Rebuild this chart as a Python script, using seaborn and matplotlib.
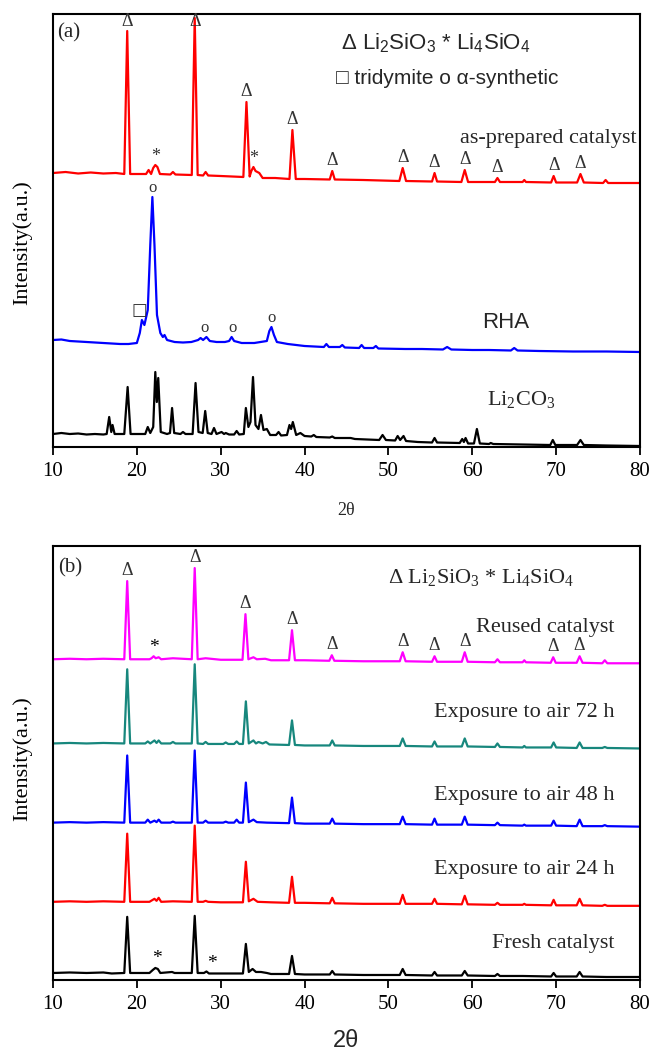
import numpy as np
import pandas as pd
import seaborn as sns
import matplotlib.pyplot as plt

# ---- XRD traces: (2theta, intensity a.u.) vertices ----
two_theta_ticks = [10, 20, 30, 40, 50, 60, 70, 80]

# panel (a)
as_prepared = [(10, 12), (11.5, 13), (13, 11.5), (14.5, 12.5), (16, 11.5), (17.5, 12), (18.5, 11),
               (18.85, 154), (19.2, 11), (20.5, 11), (21.1, 11), (21.4, 15), (21.7, 11), (21.95, 17),
               (22.2, 20), (22.45, 18), (22.75, 11), (24.0, 10.5), (24.3, 13), (24.6, 10.5), (26.55, 10),
               (26.9, 167), (27.25, 10), (27.9, 9.5), (28.2, 13), (28.5, 9.5), (30, 9), (32.7, 8),
               (33.07, 83), (33.45, 8.5), (33.65, 14), (33.9, 18), (34.15, 14), (34.6, 12), (35.0, 7),
               (36.5, 7), (38.2, 6), (38.55, 55), (38.95, 6), (40, 6), (43.0, 5.5), (43.3, 14),
               (43.6, 5.5), (47, 5), (51.3, 4), (51.7, 17), (52.1, 4), (55.2, 3.5), (55.5, 12),
               (55.8, 3.5), (58.7, 3), (59.1, 15), (59.5, 3), (62.7, 3), (63.0, 7), (63.3, 3), (66.0, 3),
               (66.2, 5), (66.4, 3), (69.4, 2.5), (69.7, 9), (70.0, 2.5), (72.5, 2.5), (72.9, 11),
               (73.3, 2.5), (75.6, 2), (75.9, 5), (76.2, 2), (80, 2)]

rha = [(10, 15), (11, 15.5), (12, 14), (13, 13.5), (14, 13), (15, 12.5), (16, 12), (17, 11.5), (18, 11),
       (19, 11), (20, 12), (20.35, 22), (20.6, 35), (20.9, 30), (21.3, 45), (21.6, 110), (21.85, 158),
       (22.1, 110), (22.4, 40), (22.8, 22), (23.1, 18), (23.3, 20), (23.6, 15), (24.5, 13), (25.5, 12.5),
       (26.5, 13), (27.3, 15), (27.6, 17), (27.9, 15), (28.3, 18), (28.7, 14), (29.5, 13), (30.5, 13),
       (31.0, 14), (31.3, 18), (31.6, 14), (32.5, 12), (34.0, 12), (35.5, 14), (35.8, 24), (36.05, 28),
       (36.35, 20), (36.7, 13), (38, 11), (40, 9), (42.3, 8), (42.6, 11), (42.9, 8), (44.2, 8),
       (44.5, 10), (44.8, 7.5), (46.5, 7), (46.8, 10), (47.1, 7), (48.2, 7), (48.5, 9), (48.8, 6.5),
       (52, 6), (54, 6), (56.5, 5.5), (57, 8), (57.5, 5.5), (60, 5), (62, 5), (64.6, 4.5), (65, 7),
       (65.4, 4.5), (68, 4), (72, 3.5), (76, 3.5), (80, 3)]

li2co3 = [(10, 13), (11, 14), (12, 13), (13, 13.5), (14, 12.5), (15, 13), (16, 12.5), (16.4, 13),
          (16.7, 30), (16.95, 15), (17.1, 22), (17.35, 13), (18.5, 13), (18.9, 60), (19.25, 13),
          (20.5, 13), (21.0, 13), (21.3, 20), (21.6, 14), (21.95, 20), (22.2, 75), (22.38, 45),
          (22.55, 69), (22.85, 15), (23.6, 13), (23.95, 14), (24.2, 39), (24.45, 14), (25.2, 13),
          (25.5, 15), (25.8, 13), (26.65, 13), (27.0, 64), (27.35, 15), (27.85, 14), (28.15, 36),
          (28.45, 14), (28.9, 13), (29.2, 19), (29.5, 13), (30.1, 15), (30.4, 13), (30.6, 14),
          (31.0, 12.5), (31.6, 12.5), (31.9, 16), (32.2, 12.5), (32.75, 13), (33.0, 39), (33.3, 20),
          (33.55, 25), (33.85, 70), (34.15, 22), (34.5, 18), (34.8, 32), (35.1, 17), (35.5, 18),
          (35.9, 12), (36.6, 12), (36.9, 15), (37.2, 11.5), (37.9, 12), (38.2, 22), (38.4, 18),
          (38.6, 25), (39.0, 12), (39.5, 14), (40.0, 11), (40.8, 10.5), (41.1, 12), (41.4, 10),
          (43.0, 9.5), (43.3, 10.5), (43.6, 9), (45.5, 9), (46, 8), (48.9, 7), (49.3, 12), (49.7, 7),
          (50.8, 6.5), (51.1, 11), (51.4, 7), (51.8, 11), (52.1, 6), (53.5, 5), (55.2, 4.5), (55.5, 9),
          (55.8, 4.5), (58.5, 4), (58.8, 8), (59.0, 5), (59.2, 9), (59.5, 3.5), (60.2, 3.5),
          (60.55, 18), (60.9, 3.5), (62.0, 3), (62.2, 4), (62.5, 3), (66, 2.5), (69.3, 2), (69.6, 7),
          (69.9, 2), (72.5, 2), (72.9, 7), (73.3, 2), (76, 1.5), (80, 1)]

# panel (b)
reused = [(10, 8), (12, 8.5), (14, 8), (16, 8.5), (18.5, 8), (18.85, 86), (19.2, 8), (21.5, 8),
          (21.75, 9), (22.0, 11), (22.25, 9), (22.6, 10), (22.9, 8), (24.3, 9), (26.55, 8), (26.9, 99),
          (27.25, 8), (28.2, 9), (30, 7.5), (32.6, 7.5), (32.95, 53), (33.3, 8), (33.9, 10), (34.3, 8),
          (35.3, 8.5), (36, 7), (38.15, 7), (38.5, 37), (38.85, 7), (40, 7), (42.95, 6.5), (43.25, 12),
          (43.55, 6.5), (47, 6), (51.35, 6), (51.7, 15), (52.05, 6), (55.2, 5.5), (55.5, 11),
          (55.8, 5.5), (58.75, 5.5), (59.1, 15), (59.45, 5.5), (62.7, 5), (63.0, 8), (63.3, 5),
          (66.0, 5), (66.2, 7), (66.4, 5), (69.35, 4.5), (69.65, 10), (69.95, 4.5), (72.45, 4.5),
          (72.8, 11), (73.15, 4.5), (75.5, 4), (75.8, 7), (76.1, 4), (80, 4)]

air_72h = [(10, 8), (12, 8.5), (14, 8), (16, 8.5), (18.5, 8), (18.85, 82), (19.2, 8), (21.0, 8),
           (21.3, 10), (21.6, 8), (22.1, 11), (22.35, 8.5), (22.6, 11), (22.9, 8), (24.0, 8), (24.3, 9.5),
           (24.6, 8), (26.55, 8), (26.9, 87), (27.25, 8), (27.9, 7.5), (28.2, 9.5), (28.5, 7.5),
           (30.3, 7.5), (30.6, 9), (30.9, 7.5), (31.6, 7.5), (31.9, 10), (32.2, 7.5), (32.65, 7.5),
           (33.0, 50), (33.35, 8), (33.9, 11), (34.2, 8), (34.5, 9.5), (35.0, 8), (35.4, 9.5), (35.8, 7),
           (38.15, 6.5), (38.5, 31), (38.85, 6.5), (40, 6), (43.0, 6), (43.3, 11), (43.6, 6), (47, 5.5),
           (51.35, 5.5), (51.7, 13), (52.05, 5.5), (55.2, 5), (55.5, 10), (55.8, 5), (58.75, 5),
           (59.1, 13), (59.45, 5), (62.7, 4.5), (63.0, 8), (63.3, 4.5), (66.0, 4), (66.2, 5.5), (66.4, 4),
           (69.4, 4), (69.7, 9), (70.0, 4), (72.45, 3.5), (72.8, 9), (73.15, 3.5), (75.5, 3.5),
           (75.8, 4.5), (76.1, 3.5), (80, 3)]

air_48h = [(10, 7), (12, 7.5), (14, 7), (16, 7.5), (18.5, 7), (18.85, 74), (19.2, 7), (21.0, 7),
           (21.3, 10), (21.6, 7), (22.1, 9), (22.35, 7.5), (22.6, 10), (22.9, 7), (24.0, 7), (24.3, 8),
           (24.6, 7), (26.55, 7), (26.9, 79), (27.25, 7), (27.9, 7), (28.2, 9), (28.5, 7), (30.3, 7),
           (30.6, 8), (30.9, 7), (31.6, 7), (31.9, 10), (32.2, 7), (32.65, 7), (33.0, 47), (33.35, 7.5),
           (33.9, 10), (34.3, 7.5), (35.5, 7), (38.15, 6.5), (38.5, 32), (38.85, 6.5), (40, 6),
           (43.0, 6), (43.3, 11), (43.6, 6), (47, 5.5), (51.35, 5.5), (51.7, 13), (52.05, 5.5),
           (55.2, 5), (55.5, 11), (55.8, 5), (58.75, 5), (59.1, 13), (59.45, 5), (62.7, 4.5), (63.0, 7),
           (63.3, 4.5), (66.0, 4), (66.2, 5), (66.4, 4), (69.4, 4), (69.7, 9), (70.0, 4), (72.45, 3.5),
           (72.8, 10), (73.15, 3.5), (75.5, 3.5), (75.8, 4.5), (76.1, 3.5), (80, 3)]

air_24h = [(10, 7), (12, 7.5), (14, 7), (16, 7.5), (18.5, 7), (18.85, 75), (19.2, 7), (21.5, 7),
           (21.8, 8.5), (22.1, 10), (22.35, 8), (22.6, 11), (22.9, 7), (24.3, 7.5), (26.55, 7),
           (26.9, 83), (27.25, 7), (27.9, 7), (28.2, 8), (28.5, 7), (30, 6.5), (32.65, 6.5), (33.0, 47),
           (33.35, 7.5), (33.9, 10), (34.4, 7), (36, 6.5), (38.15, 6), (38.5, 32), (38.85, 6), (40, 6),
           (43.0, 5.5), (43.3, 11), (43.6, 5.5), (47, 5), (51.35, 5), (51.7, 14), (52.05, 5), (55.2, 5),
           (55.5, 10), (55.8, 5), (58.75, 4.5), (59.1, 13), (59.45, 4.5), (62.7, 4), (63.0, 6),
           (63.3, 4), (66.0, 4), (66.2, 5), (66.4, 4), (69.4, 3.5), (69.7, 9), (70.0, 3.5), (72.45, 3.5),
           (72.8, 10), (73.15, 3.5), (75.5, 3), (75.8, 4), (76.1, 3), (80, 3)]

fresh = [(10, 7), (12, 7.5), (14, 7), (16, 7.5), (17, 6.5), (18.5, 7), (18.85, 63), (19.2, 7),
         (21.5, 7), (21.9, 10), (22.2, 12), (22.5, 11), (22.8, 7), (24.2, 8), (24.5, 7), (26.55, 7),
         (26.9, 64), (27.25, 7), (28.0, 7), (28.3, 8.5), (28.6, 6.5), (30, 6.5), (32.65, 6.5), (33.0, 36),
         (33.35, 8), (33.8, 11), (34.2, 8), (34.8, 8), (35.5, 7), (36, 6), (38.15, 6), (38.5, 24),
         (38.85, 6), (40, 5.5), (43.0, 5.5), (43.3, 9), (43.6, 5.5), (47, 5), (51.35, 5), (51.7, 11),
         (52.05, 5), (55.2, 4.5), (55.5, 8), (55.8, 4.5), (58.75, 4.5), (59.1, 9), (59.45, 4.5),
         (62.7, 4), (63.0, 6), (63.3, 4), (66, 4), (69.4, 3.5), (69.7, 7), (70.0, 3.5), (72.45, 3.5),
         (72.8, 8), (73.15, 3.5), (76, 3), (80, 3)]

# phase marks (peak positions, 2theta)
li2sio3_a = [18.85, 26.9, 33.07, 38.55, 43.3, 51.7, 55.5, 59.1, 63.0, 69.7, 72.9]
li4sio4_a = [22.2, 33.9]
alpha_rha = [21.85, 28.1, 31.4, 36.05]
tridymite_rha = [20.3]
li2sio3_b = [18.85, 26.9, 32.95, 38.5, 43.25, 51.7, 55.5, 59.1, 69.65, 72.8]
li4sio4_reused = [22.0]
li4sio4_fresh = [22.4, 29.0]

# vertical stacking offsets
offsets_a = [262, 92, 0]
offsets_b = [312, 228, 150, 71, 0]

YTOP = 433
SERIF = ['Liberation Serif', 'DejaVu Serif', 'DejaVu Sans']
SANS = ['Liberation Sans', 'DejaVu Sans']

sns.set_theme(style='ticks')
plt.rcParams['font.family'] = SERIF


def draw(ax, pts, offset, color):
    df = pd.DataFrame(pts, columns=['tt', 'I'])
    df['I'] = df['I'] + offset
    sns.lineplot(data=df, x='tt', y='I', ax=ax, color=color, lw=1.6,
                 estimator=None, sort=False)
    return df


def mark(ax, df, xs, sym, size=13, pad=2, family=SERIF, color='#333333'):
    for x in xs:
        near = df[(df.tt > x - 0.45) & (df.tt < x + 0.45)]
        y = max(near.I.max(), np.interp(x, df.tt, df.I)) + pad
        y = min(y, YTOP - 16)
        ax.text(x, y, sym, ha='center', va='bottom', fontsize=size,
                family=family, color=color)


def style(ax):
    ax.set_xlim(10, 80)
    ax.set_ylim(0, YTOP)
    ax.set_xticks(two_theta_ticks)
    ax.set_yticks([])
    for s in ax.spines.values():
        s.set_visible(True)
        s.set_linewidth(1.5)
        s.set_color('black')
    ax.tick_params(axis='x', direction='out', length=6, width=1.3, pad=5,
                   labelsize=15, colors='black')
    ax.set_ylabel('Intensity(a.u.)', fontsize=16, color='black')


fig = plt.figure(figsize=(6.52, 10.52), dpi=100)
ax_a = fig.add_axes([53 / 652, 1 - 447 / 1052, 587 / 652, 433 / 1052])
ax_b = fig.add_axes([53 / 652, 1 - 980 / 1052, 587 / 652, 434 / 1052])

# ---------- panel (a) ----------
d_red = draw(ax_a, as_prepared, offsets_a[0], '#ff0000')
d_rha = draw(ax_a, rha, offsets_a[1], '#0000ff')
draw(ax_a, li2co3, offsets_a[2], 'black')
style(ax_a)
ax_a.set_xlabel('2θ', fontsize=13)
ax_a.xaxis.set_label_coords(0.5, -0.128)
ax_a.yaxis.set_label_coords(-0.036, 0.473)

mark(ax_a, d_red, li2sio3_a, 'Δ')
mark(ax_a, d_red, li4sio4_a, '*', size=13, pad=0)
mark(ax_a, d_rha, alpha_rha, 'o', size=12, pad=1)
mark(ax_a, d_rha, tridymite_rha, '□', size=12, pad=1, family=['DejaVu Sans'])

ax_a.text(10.5, 414, '(a)', fontsize=15, va='center', ha='left')
ax_a.text(44.3, 404, r'Δ $\mathregular{Li_2SiO_3}$ * $\mathregular{Li_4SiO_4}$',
          fontsize=16, family=SANS, va='center', ha='left')
ax_a.text(43.7, 368, '□ tridymite o α-synthetic', fontsize=15, family=SANS,
          va='center', ha='left')
ax_a.text(79.6, 309, 'as-prepared catalyst', fontsize=16, va='center', ha='right')
ax_a.text(61.2, 124, 'RHA', fontsize=16, family=SANS, va='center', ha='left')
ax_a.text(61.7, 47, r'$\mathregular{Li_2CO_3}$', fontsize=16, va='center', ha='left')

# ---------- panel (b) ----------
series_b = [reused, air_72h, air_48h, air_24h, fresh]
colors_b = ['#ff00ff', '#17877d', '#0000ff', '#ff0000', 'black']
dfs_b = [draw(ax_b, s, o, c) for s, o, c in zip(series_b, offsets_b, colors_b)]
style(ax_b)
ax_b.set_xlabel('2θ', fontsize=17, family=SANS)
ax_b.xaxis.set_label_coords(0.5, -0.116)
ax_b.yaxis.set_label_coords(-0.036, 0.51)

mark(ax_b, dfs_b[0], li2sio3_b, 'Δ')
mark(ax_b, dfs_b[0], li4sio4_reused, '*', size=14, pad=0, color='black')
mark(ax_b, dfs_b[4], li4sio4_fresh, '*', size=14, pad=1, color='black')

ax_b.text(10.6, 411, '(b)', fontsize=15, va='center', ha='left')
ax_b.text(50.0, 402, r'Δ $\mathregular{Li_2SiO_3}$ * $\mathregular{Li_4SiO_4}$',
          fontsize=16, va='center', ha='left')
labels_b = ['Reused catalyst', 'Exposure to air 72 h', 'Exposure to air 48 h',
            'Exposure to air 24 h', 'Fresh catalyst']
label_y_b = [352, 267, 184, 110, 36]
for lab, ly in zip(labels_b, label_y_b):
    ax_b.text(77.0, ly, lab, fontsize=16, va='center', ha='right')

fig.savefig('out.png', dpi=100)
